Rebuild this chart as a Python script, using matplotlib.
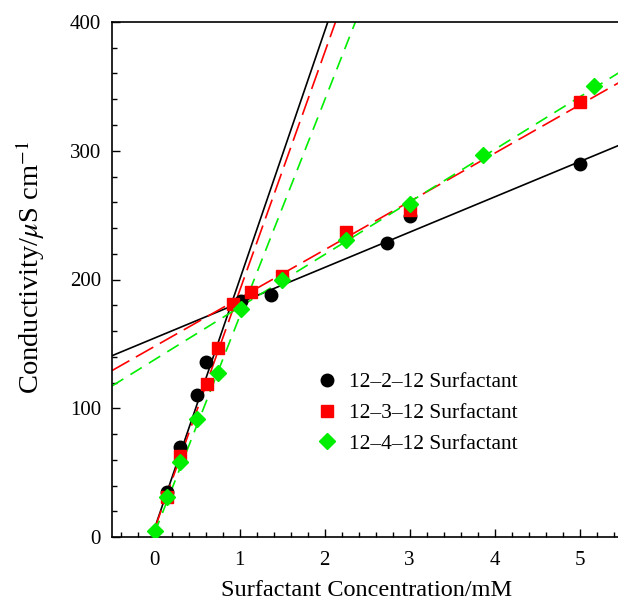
# 계면활성제 농도 vs 전도도

import numpy as np
import matplotlib
matplotlib.use('Agg')
import matplotlib.pyplot as plt
from matplotlib.ticker import MultipleLocator

plt.rcParams['font.family'] = ['Liberation Serif', 'DejaVu Serif']
plt.rcParams['mathtext.fontset'] = 'stix'

# 측정값
x_2 = [0.15, 0.3, 0.5, 0.6, 1.02, 1.37, 2.74, 3.0, 5.0]
y_2 = [35, 70, 110, 136, 183, 188, 228, 249, 290]

x_3 = [0.15, 0.3, 0.62, 0.75, 0.92, 1.13, 1.5, 2.25, 3.0, 5.0]
y_3 = [31, 63, 119, 147, 181, 190, 203, 237, 254, 338]

x_4 = [0.0, 0.15, 0.3, 0.5, 0.75, 1.02, 1.5, 2.25, 3.0, 3.87, 5.17]
y_4 = [5, 31, 58, 92, 127, 177, 200, 231, 259, 297, 350]

# 직선 (기울기, 절편): CMC 아래 / 위
steep = {'2': (193, 6.5), '3': (185, 6.0), '4': (168, 3.0)}
flat = {'2': (27.4, 154.5), '3': (37.5, 148.0), '4': (40.8, 137.7)}

labels = ['12\u20132\u201312 Surfactant', '12\u20133\u201312 Surfactant',
          '12\u20134\u201312 Surfactant']

fig = plt.figure(figsize=(6.18, 6.01), dpi=100)
ax = fig.add_axes([112/618, 64/601, 510/618, 515/601])

xs = np.array([0.0, 2.6])
xf = np.array([-0.5, 5.5])

# 선
m, b = steep['2']
ax.plot(xs, m*xs + b, color='black', lw=1.2, zorder=2)
m, b = flat['2']
ax.plot(xf, m*xf + b, color='black', lw=1.2, zorder=2)

m, b = steep['3']
ax.plot(xs, m*xs + b, color='#ff0000', lw=1.2, dashes=(12, 4.5), zorder=2)
m, b = flat['3']
ax.plot(xf, m*xf + b, color='#ff0000', lw=1.2, dashes=(12, 4.5), zorder=2)

m, b = steep['4']
ax.plot(xs, m*xs + b, color='#00ee00', lw=1.2, dashes=(8, 5), zorder=2)
m, b = flat['4']
ax.plot(xf, m*xf + b, color='#00ee00', lw=1.2, dashes=(8, 5), zorder=2)

# 점
ax.plot(x_2, y_2, 'o', color='black', ms=9, linestyle='none', label=labels[0], zorder=3)
ax.plot(x_3, y_3, 's', color='#ff0000', ms=9, linestyle='none', label=labels[1], zorder=3)
ax.plot(x_4, y_4, 'D', color='#00ee00', ms=8.5, linestyle='none', label=labels[2], zorder=3)

ax.set_xlim(-0.5, 5.5)
ax.set_ylim(0, 400)
ax.xaxis.set_major_locator(MultipleLocator(1))
ax.xaxis.set_minor_locator(MultipleLocator(0.2))
ax.yaxis.set_major_locator(MultipleLocator(100))
ax.yaxis.set_minor_locator(MultipleLocator(20))
ax.tick_params(which='both', direction='in', top=False, right=False, labelsize=15)
ax.tick_params(which='major', length=6, width=1)
ax.tick_params(which='minor', length=3.5, width=1)
ax.tick_params(axis='x', pad=10)
ax.tick_params(axis='y', pad=8)
for s in ax.spines.values():
    s.set_linewidth(1.2)

ax.set_xlabel('Surfactant Concentration/mM', fontsize=17.5, labelpad=7)
ax.set_ylabel('Conductivity/$\\mu$S cm$^{-1}$', fontsize=20.5, labelpad=16,
              y=0.523, ha='center')

ax.legend(loc='upper left', bbox_to_anchor=(0.40, 0.32), frameon=False,
          fontsize=15.5, handlelength=1.0, handletextpad=0.55,
          labelspacing=0.5, borderpad=0, borderaxespad=0)

plt.savefig('out.png', dpi=100)
